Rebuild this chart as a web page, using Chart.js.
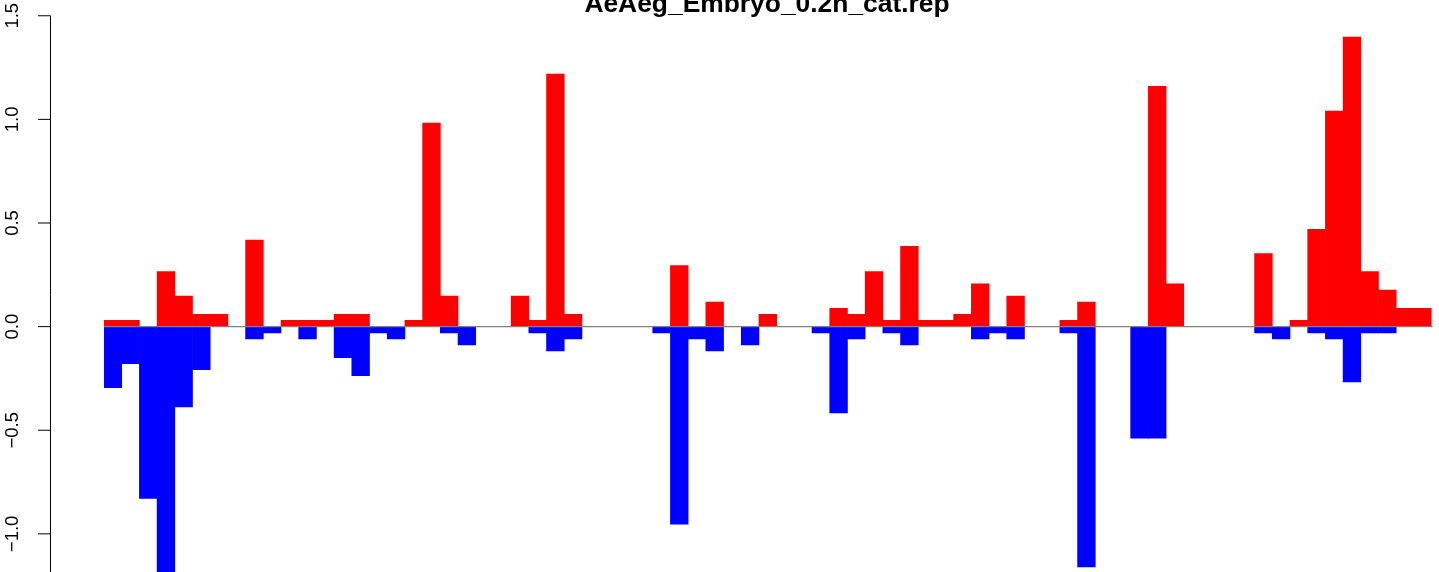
<!DOCTYPE html>
<html>
<head>
<meta charset="utf-8">
<script src="https://cdn.jsdelivr.net/npm/chart.js@4"></script>
<style>
  html, body { margin: 0; padding: 0; background: #fff; }
  #wrap { width: 1439px; height: 572px; position: relative; }
</style>
</head>
<body>
<div id="wrap"><canvas id="chart"></canvas></div>
<script>
// bins 1..75 of the barplot
const titleText = 'AeAeg_Embryo_0.2h_cat.rep';
const categories = Array.from({ length: 75 }, (_, i) => String(i + 1));

const upValues = [
  0.03, 0.03, 0, 0.265, 0.147, 0.059, 0.059, 0, 0.417, 0,
  0.03, 0.03, 0.03, 0.059, 0.059, 0, 0, 0.03, 0.982, 0.147,
  0, 0, 0, 0.147, 0.03, 1.218, 0.059, 0, 0, 0,
  0, 0, 0.294, 0, 0.118, 0, 0, 0.059, 0, 0,
  0, 0.088, 0.059, 0.265, 0.03, 0.388, 0.03, 0.03, 0.059, 0.206,
  0, 0.147, 0, 0, 0.03, 0.118, 0, 0, 0, 1.16,
  0.206, 0, 0, 0, 0, 0.353, 0, 0.03, 0.47, 1.04,
  1.397, 0.265, 0.176, 0.088, 0.088
];

const downValues = [
  -0.295, -0.179, -0.829, -1.2, -0.387, -0.208, 0, 0, -0.059, -0.03,
  0, -0.059, 0, -0.15, -0.237, -0.03, -0.059, 0, 0, -0.03,
  -0.088, 0, 0, 0, -0.03, -0.117, -0.059, 0, 0, 0,
  0, -0.03, -0.953, -0.059, -0.117, 0, -0.088, 0, 0, 0,
  -0.03, -0.417, -0.059, 0, -0.03, -0.088, 0, 0, 0, -0.059,
  -0.03, -0.059, 0, 0, -0.03, -1.16, 0, 0, -0.538, -0.538,
  0, 0, 0, 0, 0, -0.03, -0.059, 0, -0.03, -0.059,
  -0.267, -0.03, -0.03, 0, 0
];

const yTicks = [-1.5, -1.0, -0.5, 0.0, 0.5, 1.0, 1.5];
const yTickLabels = ['\u22121.5', '\u22121.0', '\u22120.5', '0.0', '0.5', '1.0', '1.5'];

// R-style left axis, title and zero line
const rStyle = {
  id: 'rStyle',
  afterDatasetsDraw(chart) {
    const ctx = chart.ctx;
    const y = chart.scales.y;
    const area = chart.chartArea;

    // zero line across the bars
    ctx.save();
    ctx.strokeStyle = '#808080';
    ctx.lineWidth = 1.2;
    ctx.beginPath();
    ctx.moveTo(area.left, y.getPixelForValue(0));
    ctx.lineTo(area.right + 1, y.getPixelForValue(0));
    ctx.stroke();
    ctx.restore();
  },
  afterDraw(chart) {
    const ctx = chart.ctx;
    const y = chart.scales.y;
    const axisX = 50.5;

    ctx.save();
    ctx.strokeStyle = '#000';
    ctx.lineWidth = 1;
    ctx.beginPath();
    ctx.moveTo(axisX, y.getPixelForValue(yTicks[yTicks.length - 1]));
    ctx.lineTo(axisX, y.getPixelForValue(yTicks[0]));
    ctx.stroke();

    ctx.font = '18.5px "Liberation Sans", Arial, sans-serif';
    ctx.fillStyle = '#000';
    ctx.textAlign = 'center';
    ctx.textBaseline = 'alphabetic';
    yTicks.forEach((v, i) => {
      const py = y.getPixelForValue(v);
      ctx.beginPath();
      ctx.moveTo(38, py);
      ctx.lineTo(axisX, py);
      ctx.stroke();
      ctx.save();
      ctx.translate(17.5, py);
      ctx.rotate(-Math.PI / 2);
      ctx.fillText(yTickLabels[i], 0, 0);
      ctx.restore();
    });

    ctx.font = 'bold 26.4px "Liberation Sans", Arial, sans-serif';
    ctx.textAlign = 'center';
    ctx.fillText(titleText, 767, 12);
    ctx.restore();
  }
};

new Chart(document.getElementById('chart'), {
  type: 'bar',
  data: {
    labels: categories,
    datasets: [
      { label: 'up', data: upValues, backgroundColor: '#ff0000', borderWidth: 0 },
      { label: 'down', data: downValues, backgroundColor: '#0000ff', borderWidth: 0 }
    ]
  },
  options: {
    responsive: true,
    maintainAspectRatio: false,
    animation: false,
    events: [],
    layout: { padding: { left: 104, right: 7.4, top: 0, bottom: 0 } },
    datasets: { bar: { barPercentage: 1, categoryPercentage: 1, grouped: false } },
    plugins: { legend: { display: false }, title: { display: false }, tooltip: { enabled: false } },
    scales: {
      x: { display: false },
      y: { display: false, min: -1.184, max: 1.576 }
    }
  },
  plugins: [rStyle]
});
</script>
</body>
</html>
